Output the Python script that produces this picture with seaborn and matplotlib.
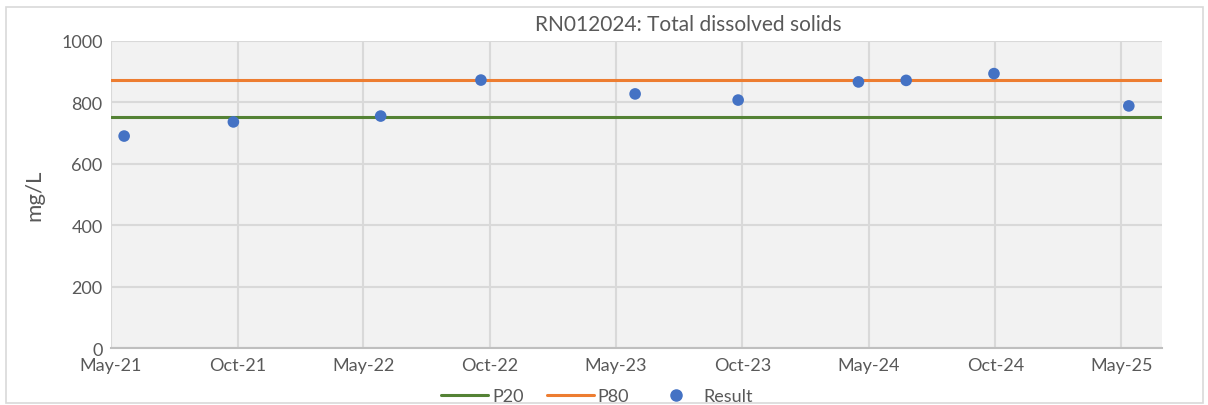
import numpy as np
import pandas as pd
import matplotlib
matplotlib.use("Agg")
import matplotlib.pyplot as plt
import matplotlib.dates as mdates
from matplotlib.patches import Rectangle
from matplotlib.lines import Line2D
import seaborn as sns

# data
sample_dates = ["2021-05-20", "2021-10-25", "2022-05-26", "2022-10-18", "2023-05-29",
                "2023-10-25", "2024-04-16", "2024-06-24", "2024-10-29", "2025-05-12"]
results = [690, 736, 755, 872, 827, 807, 866, 871, 893, 788]
p20 = 752
p80 = 872
tick_dates = ["2021-05-01", "2021-10-31", "2022-05-01", "2022-10-31", "2023-05-01",
              "2023-10-31", "2024-05-01", "2024-10-31", "2025-05-01"]

df = pd.DataFrame({"date": pd.to_datetime(sample_dates), "Result": results})

sns.set_theme(style="white")
plt.rcParams['font.family'] = ['Lato', 'DejaVu Sans']
txt = "#595959"

fig = plt.figure(figsize=(12.08, 4.06), dpi=100)
ax = fig.add_axes([111/1208, 1 - 349.3/406, (1162-111)/1208, (349.3-41.7)/406])
ax.set_facecolor("#F2F2F2")

# outer chart frame
fig.patches.append(Rectangle((6/1208, 2/406), 1197/1208, 396/406, transform=fig.transFigure,
                             fill=False, edgecolor="#D9D9D9", linewidth=1.2))

ax.axhline(p20, color="#548235", lw=2.2, zorder=3)
ax.axhline(p80, color="#ED7D31", lw=2.2, zorder=3)
sns.scatterplot(data=df, x="date", y="Result", ax=ax, color="#4472C4", s=70,
                edgecolor="none", zorder=4, legend=False)

ax.set_xticks(pd.to_datetime(tick_dates))
ax.xaxis.set_major_formatter(mdates.DateFormatter("%b-%y"))
ax.set_xlim(pd.Timestamp(tick_dates[0]), pd.Timestamp("2025-06-29"))
ax.set_ylim(0, 1000)
ax.set_yticks(range(0, 1001, 200))

ax.grid(True, color="#D9D9D9", lw=1.5, zorder=0)
ax.set_axisbelow(True)
for side in ["top", "right", "left"]:
    ax.spines[side].set_visible(False)
ax.spines["bottom"].set_color("#BFBFBF")
ax.spines["bottom"].set_linewidth(1.5)
ax.tick_params(axis="both", length=0, labelsize=13, labelcolor=txt, pad=6)

ax.set_xlabel("")
ax.set_ylabel("mg/L", fontsize=16, color=txt, labelpad=12)
fig.text(688/1208, 1 - 25/406, "RN012024: Total dissolved solids", ha="center", va="center",
         fontsize=15, color=txt)

handles = [Line2D([], [], color="#548235", lw=2.2),
           Line2D([], [], color="#ED7D31", lw=2.2),
           Line2D([], [], color="#4472C4", marker="o", ls="none", markersize=8)]
fig.legend(handles, ["P20", "P80", "Result"], loc="center", bbox_to_anchor=(597/1208, 1 - 397/406),
           ncol=3, frameon=False, fontsize=13, labelcolor=txt, handlelength=2.6,
           handletextpad=0.2, columnspacing=1.3)

fig.savefig("out.png", dpi=100)
